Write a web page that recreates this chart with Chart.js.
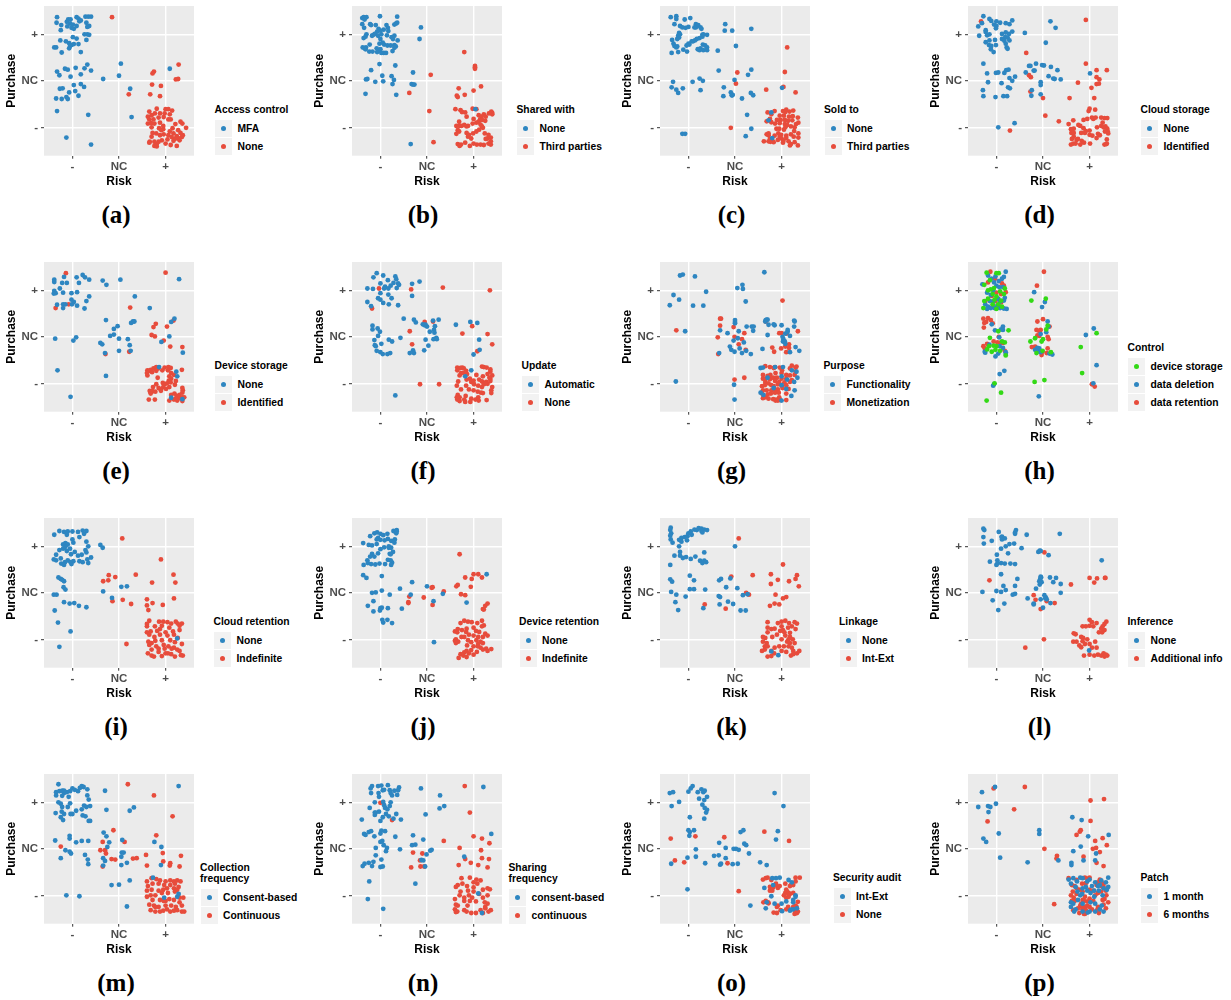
<!DOCTYPE html>
<html>
<head>
<meta charset="utf-8">
<title>Risk and purchase panels</title>
<script src="https://cdn.jsdelivr.net/npm/chart.js@4"></script>
<style>
body { margin: 0; background: #fff; width: 1231px; height: 1000px; position: relative; overflow: hidden; font-family: "Liberation Sans", Arial, sans-serif; }
canvas { position: absolute; }
.txt { position: absolute; font-weight: bold; font-size: 10.3px; line-height: 11px; color: #000; white-space: nowrap; }
.key { position: absolute; width: 17px; height: 17px; background: #f2f2f2; }
.dot { position: absolute; left: 6px; top: 6px; width: 5px; height: 5px; border-radius: 50%; }
.cap { position: absolute; font: bold 25px "Liberation Serif", serif; color: #000; transform: translate(-50%, -50%); }
</style>
</head>
<body>
<script>
// values are in hundredths of a category step: -100 is "-", 0 is NC, 100 is "+"
const tickValues = [-100, 0, 100];
const tickLabels = ["-", "NC", "+"];

const aBlue = [[-133,137],[-109,132],[-104,132],[-91,137],[-87,134],[-82,130],[-72,138],[-66,138],[-60,138],[-134,125],[-124,120],[-112,127],[-105,123],[-99,121],[-85,128],[-70,125],[-64,118],[-68,116],[-111,117],[-102,114],[-97,112],[-91,118],[-125,109],[-74,100],[-68,100],[-64,99],[-99,94],[-91,91],[-70,88],[-126,87],[-114,85],[-107,81],[-102,77],[-97,79],[-87,79],[-105,75],[-107,70],[-139,72],[-135,72],[-123,61],[-82,62],[-68,35],[-74,27],[-93,28],[-116,26],[-110,24],[-133,20],[-128,12],[-104,9],[-82,14],[-60,22],[-97,-9],[-82,-7],[-75,-13],[-127,-17],[-121,-16],[-107,-25],[-94,-22],[-87,-32],[-135,-38],[-123,-39],[-113,-35],[-110,-39],[-133,-65],[-66,-73],[-113,-122],[-60,-137],[4,37],[0,11],[-34,4],[24,-17],[27,-78],[109,26]];
const aRed = [[-15,137],[128,35],[75,20],[72,16],[122,3],[127,4],[71,-8],[90,-11],[21,-29],[67,-29],[88,-33],[65,-66],[81,-60],[100,-61],[106,-61],[114,-64],[62,-77],[70,-74],[77,-70],[88,-70],[98,-70],[109,-72],[65,-83],[74,-83],[85,-79],[96,-78],[106,-83],[62,-92],[69,-91],[76,-92],[88,-90],[95,-97],[111,-83],[132,-88],[136,-92],[121,-93],[144,-101],[70,-100],[86,-102],[95,-104],[115,-102],[127,-106],[109,-109],[72,-112],[80,-113],[88,-117],[96,-115],[106,-117],[117,-113],[124,-119],[132,-112],[137,-117],[70,-120],[113,-121],[120,-125],[127,-123],[135,-121],[66,-131],[65,-133],[76,-131],[81,-136],[100,-135],[111,-138],[117,-129],[124,-140],[85,-131],[76,-140],[81,-141],[91,-106],[104,-126],[130,-128],[92,-128]];

const bBlue = [[-139,135],[-136,137],[-130,137],[-134,132],[-101,139],[-64,138],[-139,122],[-135,114],[-122,122],[-120,120],[-110,120],[-104,112],[-87,120],[-84,114],[-64,125],[-70,121],[-67,123],[-100,108],[-93,110],[-83,107],[-107,106],[-115,99],[-118,97],[-112,101],[-98,100],[-86,98],[-130,100],[-136,92],[-132,95],[-105,97],[-76,94],[-70,97],[-73,90],[-100,90],[-63,87],[-123,78],[-102,80],[-95,82],[-92,78],[-85,76],[-78,76],[-70,77],[-67,74],[-70,71],[-138,72],[-134,70],[-131,72],[-124,63],[-117,63],[-107,62],[-102,65],[-98,60],[-93,60],[-88,60],[-74,64],[-132,68],[-108,70],[-100,68],[-102,36],[-120,23],[-68,33],[-96,11],[-131,3],[-128,4],[-111,-2],[-94,-1],[-76,10],[-71,2],[-74,-7],[-132,-28],[-66,-30],[-30,18],[-33,-7],[-30,-8],[-27,-8],[-13,115],[-16,90],[-35,-136],[104,-61]];
const bRed = [[80,62],[103,32],[103,29],[103,26],[8,13],[116,-12],[68,-16],[100,-21],[64,-32],[81,-30],[66,-35],[5,-65],[14,-132],[-38,-26],[61,-61],[72,-63],[75,-67],[98,-60],[106,-61],[82,-68],[85,-77],[69,-88],[100,-82],[111,-74],[122,-72],[138,-66],[140,-69],[140,-72],[133,-70],[126,-77],[117,-77],[70,-97],[74,-97],[88,-97],[106,-90],[111,-88],[114,-83],[118,-84],[125,-86],[63,-97],[80,-95],[85,-98],[98,-92],[115,-94],[118,-98],[120,-101],[112,-105],[66,-106],[69,-109],[85,-112],[90,-116],[99,-113],[106,-109],[124,-113],[132,-116],[63,-114],[88,-120],[95,-124],[137,-122],[130,-124],[126,-125],[66,-136],[73,-137],[82,-133],[100,-135],[107,-137],[115,-137],[122,-138],[132,-135],[137,-137],[137,-130],[92,-140],[70,-140]];

const cBlue = [[-138,137],[-126,139],[-126,133],[-108,132],[-96,135],[-130,122],[-118,118],[-113,115],[-106,114],[-100,116],[-84,122],[-82,118],[-79,120],[-74,115],[-72,112],[-84,115],[-87,115],[-120,103],[-118,100],[-122,97],[-124,90],[-135,88],[-120,93],[-70,99],[-68,100],[-60,99],[-70,95],[-76,92],[-82,90],[-86,87],[-93,85],[-90,85],[-100,80],[-98,78],[-104,76],[-132,80],[-130,75],[-126,72],[-124,74],[-69,78],[-64,76],[-60,72],[-74,70],[-80,68],[-76,66],[-68,66],[-60,66],[-136,60],[-122,62],[-111,67],[-103,63],[-37,65],[-22,108],[-6,108],[-21,122],[35,112],[2,75],[-35,22],[-133,-2],[-91,-2],[-76,5],[-69,0],[-136,-14],[-126,-19],[-122,-26],[-112,-16],[-74,-20],[-24,-14],[-25,-33],[-9,-25],[-7,-31],[-6,-31],[-5,-30],[15,-38],[39,-31],[34,-26],[35,24],[28,13],[-1,2],[78,-68],[26,-73],[-113,-114],[-107,-114],[35,-103],[23,-119],[101,-15],[72,-85],[80,-123]];
const cRed = [[112,72],[107,19],[5,18],[2,-6],[104,-13],[67,-19],[130,-25],[-9,-101],[70,-68],[78,-72],[75,-82],[85,-65],[96,-75],[103,-65],[110,-62],[108,-67],[117,-66],[125,-64],[105,-75],[116,-77],[124,-76],[135,-79],[68,-87],[78,-89],[90,-84],[98,-84],[107,-84],[114,-86],[123,-85],[131,-93],[136,-90],[86,-92],[96,-91],[107,-93],[112,-95],[120,-98],[128,-100],[89,-103],[95,-103],[105,-105],[108,-100],[72,-113],[68,-115],[85,-118],[93,-113],[99,-116],[110,-118],[120,-115],[127,-108],[136,-113],[72,-117],[80,-128],[75,-125],[96,-120],[100,-124],[104,-129],[115,-130],[126,-120],[136,-122],[62,-130],[72,-130],[83,-132],[103,-133],[120,-136],[128,-132],[135,-139],[118,-139],[76,-131],[110,-123],[92,-127]];

const dBlue = [[-128,139],[-115,133],[-111,129],[-100,128],[-92,125],[-105,121],[-100,118],[-101,113],[-80,124],[-72,122],[-66,130],[-139,117],[-131,124],[-66,106],[-123,109],[-123,105],[-137,97],[-120,98],[-115,100],[-88,101],[-80,104],[-81,94],[-88,90],[-83,86],[-73,101],[-76,93],[-72,87],[-80,80],[-115,87],[-103,88],[-123,83],[-116,77],[-111,75],[-101,77],[-112,68],[-106,62],[-78,72],[-76,69],[-39,103],[6,82],[16,128],[27,114],[-128,37],[-120,16],[-101,17],[-96,18],[-118,-3],[-89,-5],[-83,17],[-79,23],[-74,24],[-72,6],[-66,0],[-60,9],[-71,-16],[-75,-14],[-129,-20],[-128,-33],[-102,-35],[-85,-33],[-77,-33],[-37,18],[-30,32],[-27,32],[-15,37],[-2,34],[2,33],[-20,22],[-18,22],[17,30],[31,23],[12,10],[22,5],[25,4],[38,3],[-5,-3],[-5,-9],[-25,-32],[-24,-20],[-5,-29],[-96,-100],[-61,-91],[101,16]];
const dRed = [[-133,128],[92,131],[-36,60],[92,37],[-30,12],[-26,8],[-27,-23],[0,-37],[5,-75],[34,-87],[-71,-107],[137,23],[115,23],[115,8],[121,3],[115,-7],[120,-6],[104,-15],[57,-37],[75,-4],[110,-37],[100,-60],[98,-65],[112,-62],[105,-79],[87,-84],[95,-82],[108,-82],[113,-79],[125,-79],[132,-80],[138,-80],[55,-93],[65,-85],[76,-95],[80,-97],[128,-90],[125,-97],[130,-100],[134,-98],[66,-103],[60,-104],[87,-102],[92,-108],[100,-107],[116,-100],[138,-103],[139,-109],[61,-112],[66,-112],[82,-112],[90,-112],[100,-116],[106,-118],[118,-114],[122,-117],[133,-109],[140,-113],[66,-120],[62,-125],[75,-125],[83,-129],[88,-133],[115,-123],[137,-126],[137,-135],[65,-135],[70,-135],[80,-137],[101,-135],[132,-137],[136,-136],[60,-137],[72,-127]];

const eBlue = [[-139,123],[-139,118],[-118,129],[-91,128],[-78,133],[-73,128],[-64,123],[-122,116],[-112,116],[-86,116],[-127,104],[-120,95],[-139,99],[-140,93],[-136,94],[-102,94],[-90,96],[-64,87],[-70,77],[-102,80],[-97,75],[-101,70],[-90,67],[-74,61],[-120,70],[-115,70],[-133,69],[-120,62],[-35,121],[-27,112],[3,123],[129,124],[34,87],[66,62],[-28,36],[-3,23],[-11,17],[-11,5],[-19,2],[0,-4],[-40,-13],[-36,-16],[-30,-35],[0,-30],[25,-30],[19,-5],[23,-18],[26,30],[30,33],[33,33],[-137,-4],[-98,-8],[-92,-1],[-132,-72],[-28,-84],[-104,-129],[119,39],[112,32],[108,1],[91,-11],[137,-34],[123,-75],[125,-85],[112,-131],[136,-134],[86,-65]];
const eRed = [[-114,137],[100,138],[-136,62],[-108,70],[24,63],[-29,-37],[22,-32],[79,28],[74,21],[70,4],[77,1],[103,22],[117,35],[96,-8],[110,-21],[136,-22],[61,-72],[65,-73],[68,-71],[74,-68],[80,-65],[84,-68],[98,-66],[106,-65],[111,-67],[60,-78],[71,-76],[80,-73],[93,-72],[105,-72],[112,-78],[118,-82],[135,-71],[61,-83],[83,-88],[108,-85],[112,-90],[107,-94],[94,-99],[98,-102],[103,-100],[80,-102],[111,-98],[122,-95],[73,-108],[66,-116],[72,-117],[95,-108],[101,-112],[108,-108],[85,-110],[90,-113],[120,-103],[136,-110],[137,-115],[136,-120],[67,-118],[68,-122],[78,-118],[90,-116],[112,-125],[119,-122],[124,-127],[130,-125],[136,-130],[129,-132],[140,-130],[122,-133],[64,-135],[77,-135],[108,-137],[118,-135],[125,-137],[136,-138]];

const fBlue = [[-115,128],[-108,137],[-94,132],[-84,122],[-68,130],[-66,124],[-62,115],[-100,115],[-90,108],[-78,110],[-72,116],[-83,104],[-92,104],[-60,112],[-65,105],[-128,104],[-116,103],[-100,94],[-105,83],[-100,80],[-94,73],[-128,75],[-120,66],[-83,91],[-76,83],[-82,70],[-62,68],[-32,114],[-16,119],[-32,88],[-117,24],[-106,18],[-101,11],[-117,16],[-28,37],[-24,31],[-9,27],[-3,26],[0,22],[15,15],[13,35],[-3,-6],[6,11],[14,-5],[20,-2],[-5,25],[17,23],[16,9],[25,37],[-105,2],[-113,-7],[-82,-6],[-98,-15],[-100,-33],[-110,-20],[-108,-30],[-95,-37],[-85,-37],[-57,-2],[-79,-35],[-37,-35],[-28,-35],[-50,39],[-75,-10],[-112,-18],[3,-19],[21,-5],[-30,-29],[-6,-29],[62,26],[93,32],[108,30],[112,-6],[113,-28],[100,-38],[-68,-126],[95,-72],[82,-85]];
const fRed = [[-103,104],[-34,102],[34,106],[135,100],[-118,61],[-37,12],[-5,32],[13,33],[76,7],[97,23],[130,6],[140,-16],[-32,-16],[108,-31],[-15,-102],[26,-102],[65,-66],[72,-67],[76,-66],[79,-68],[65,-72],[73,-78],[77,-78],[84,-73],[118,-64],[122,-65],[128,-66],[136,-70],[136,-75],[70,-83],[86,-80],[106,-82],[130,-80],[140,-83],[120,-85],[136,-90],[134,-88],[67,-96],[85,-92],[92,-90],[95,-97],[100,-94],[112,-92],[118,-96],[127,-97],[122,-102],[130,-101],[136,-95],[64,-105],[84,-105],[101,-102],[110,-105],[118,-108],[125,-100],[140,-108],[73,-113],[90,-113],[100,-115],[109,-118],[120,-121],[138,-115],[138,-121],[66,-125],[70,-130],[65,-135],[83,-127],[95,-133],[110,-130],[116,-120],[80,-135],[82,-140],[93,-140],[104,-135],[111,-137],[128,-136],[64,-130],[70,-138]];

const gBlue = [[-118,132],[-112,134],[-86,130],[-62,97],[-132,90],[-120,80],[-140,68],[-90,67],[-68,67],[63,139],[5,105],[16,112],[17,103],[23,76],[-107,12],[-127,-96],[-2,-103],[-1,-135],[0,36],[0,32],[0,29],[25,22],[-32,14],[-16,8],[8,12],[36,22],[40,22],[39,13],[6,-3],[19,-12],[-11,-21],[-8,-28],[10,-25],[-1,-32],[15,-35],[24,-30],[34,-37],[-34,-35],[-3,-8],[66,36],[70,37],[68,37],[65,33],[72,26],[100,25],[85,25],[83,27],[113,15],[113,11],[127,35],[128,33],[127,22],[104,-5],[103,-10],[107,-10],[108,-15],[130,-22],[138,-30],[118,-33],[59,-26],[102,0],[108,7],[70,4],[118,2],[55,-67],[60,-66],[86,-65],[103,-65],[70,-88],[100,-85],[122,-72],[132,-75],[134,-88],[112,-92],[127,-97],[128,-115],[121,-127],[100,-137],[83,-110],[100,-104],[61,-125],[55,-120],[110,-112]];
const gRed = [[-126,14],[102,78],[66,33],[-32,24],[-30,39],[-32,39],[-37,-1],[-1,0],[-3,21],[15,-5],[20,8],[8,-16],[23,-28],[-36,-37],[-1,-92],[20,-88],[84,-32],[80,-23],[95,8],[100,8],[111,7],[116,-16],[135,12],[108,-21],[116,-24],[99,-25],[110,-33],[75,-65],[65,-63],[86,-65],[83,-67],[96,-66],[122,-62],[132,-64],[130,-66],[118,-68],[101,-72],[130,-75],[60,-82],[70,-84],[76,-82],[87,-78],[100,-78],[110,-82],[118,-83],[128,-82],[60,-90],[66,-90],[75,-91],[82,-88],[90,-88],[100,-90],[110,-90],[122,-93],[65,-97],[72,-100],[86,-95],[95,-97],[106,-98],[118,-97],[58,-106],[64,-104],[78,-104],[83,-106],[92,-102],[100,-105],[110,-104],[60,-115],[68,-115],[78,-115],[85,-113],[92,-113],[102,-110],[115,-112],[58,-122],[70,-124],[77,-122],[86,-120],[94,-120],[110,-122],[60,-132],[66,-130],[72,-133],[82,-134],[88,-135],[95,-130],[97,-136],[87,-137],[92,-137],[110,-136]];

const hGreen = [[-121,138],[-100,137],[-95,137],[-114,122],[-126,112],[-105,105],[-118,100],[-108,92],[-100,87],[-92,98],[-82,104],[-126,77],[-118,82],[-104,80],[-108,70],[-96,70],[-88,65],[-128,62],[-84,92],[-100,60],[-112,102],[-90,78],[-96,12],[-102,-28],[-116,-20],[-100,-20],[-92,-30],[-110,-32],[-82,-12],[-114,-2],[-80,-40],[-74,14],[-120,-27],[-106,-19],[-88,-10],[-14,-35],[-27,-10],[-17,-3],[0,-5],[10,24],[17,-33],[7,16],[-3,-10],[115,8],[-1,-30],[-25,78],[6,82],[-18,-97],[3,-93],[-104,-100],[-90,-120],[-121,-137],[81,-22],[84,-78]];
const hBlue = [[-130,113],[-118,132],[-111,125],[-102,130],[-88,125],[-80,140],[-84,129],[-105,117],[-100,110],[-94,107],[-86,107],[-120,95],[-112,90],[-107,100],[-96,82],[-82,84],[-124,70],[-118,65],[-112,62],[-104,62],[-92,62],[-84,61],[-78,60],[-98,67],[-107,76],[-92,76],[-84,78],[-114,77],[-120,60],[-95,120],[-86,22],[-90,16],[-103,14],[-110,27],[-94,-1],[-86,15],[-125,-32],[-115,-17],[-93,-20],[-86,-24],[-80,-33],[-102,-42],[-124,-34],[-96,-36],[-80,-37],[-12,-32],[-5,-33],[-17,-28],[-8,-25],[-12,-24],[20,-38],[14,-36],[7,10],[10,33],[12,22],[-5,6],[-19,96],[4,75],[-2,64],[109,18],[92,4],[-83,-73],[-93,-80],[-107,-105],[-105,-102],[-9,-128],[115,-61],[108,-100]];
const hRed = [[-113,140],[-103,125],[-88,115],[-84,110],[-80,96],[-118,117],[-100,95],[-110,88],[-90,92],[-102,77],[-124,76],[-96,63],[-108,66],[-90,74],[2,140],[-13,110],[-128,39],[-118,40],[-112,36],[-126,30],[-108,29],[-127,20],[-122,32],[-95,0],[-90,-12],[-106,-10],[-98,-12],[-86,-13],[-120,-15],[-82,-30],[-125,-25],[-128,-20],[-12,33],[0,38],[-5,15],[-14,15],[-9,13],[10,0],[12,-5],[-12,3],[-8,2],[-17,-21],[-1,-32],[-3,-39],[8,-35],[10,-25],[14,22],[-24,-22],[105,-102],[111,-107]];

const iBlue = [[-139,125],[-128,133],[-118,131],[-110,132],[-100,132],[-88,131],[-78,134],[-70,133],[-112,125],[-75,127],[-85,120],[-100,115],[-115,107],[-120,104],[-110,104],[-98,108],[-70,110],[-40,103],[-66,100],[-105,95],[-115,99],[-120,95],[-128,92],[-135,82],[-112,90],[-95,88],[-72,92],[-70,87],[-103,83],[-88,80],[-80,82],[-135,70],[-125,74],[-110,70],[-98,68],[-85,68],[-78,66],[-60,76],[-68,72],[-66,64],[-140,72],[-116,66],[-124,63],[-102,62],[-118,60],[-104,66],[-35,97],[-125,30],[-130,33],[-118,25],[-122,28],[-119,12],[-115,7],[-140,-4],[-134,-4],[-118,-20],[-106,-23],[-96,-22],[-86,-28],[-70,-31],[-138,-38],[-131,-64],[-104,-83],[-128,-116],[-34,3],[5,13],[17,14],[-15,-11],[125,-98]];
const iRed = [[7,117],[90,72],[117,39],[36,39],[-22,38],[-8,34],[-34,25],[-23,27],[71,22],[121,22],[118,-12],[-14,-18],[8,-15],[26,-24],[60,-14],[72,-22],[60,-27],[94,-26],[63,-37],[65,-60],[60,-67],[86,-62],[95,-62],[104,-63],[112,-66],[122,-62],[126,-66],[135,-66],[60,-72],[77,-72],[92,-71],[108,-75],[130,-71],[88,-78],[60,-85],[68,-83],[82,-82],[116,-83],[130,-80],[100,-85],[65,-90],[76,-95],[88,-90],[104,-92],[118,-90],[126,-97],[63,-105],[70,-108],[78,-103],[92,-102],[110,-102],[120,-106],[135,-110],[65,-112],[80,-115],[96,-112],[106,-115],[118,-118],[16,-110],[70,-122],[85,-120],[98,-120],[113,-120],[125,-122],[62,-130],[70,-135],[75,-137],[85,-127],[92,-136],[100,-130],[112,-132],[120,-137],[133,-134],[105,-130],[137,-135],[130,-125]];

const jBlue = [[-122,122],[-113,128],[-107,130],[-100,127],[-94,124],[-85,127],[-72,133],[-66,128],[-65,135],[-65,132],[-69,115],[-108,115],[-105,118],[-100,114],[-84,116],[-91,113],[-137,107],[-125,103],[-118,102],[-108,105],[-77,112],[-72,112],[-70,108],[-82,100],[-77,97],[-92,98],[-73,88],[-82,97],[-80,84],[-78,83],[-100,94],[-105,85],[-118,84],[-113,78],[-122,78],[-128,70],[-127,64],[-136,60],[-120,62],[-111,61],[-102,63],[-90,62],[-84,71],[-75,65],[-78,70],[-77,60],[-137,38],[-130,32],[-97,36],[-97,5],[-58,9],[-32,23],[0,14],[-80,-4],[-110,1],[-115,-18],[-118,0],[-127,-28],[-115,-40],[-100,-33],[-97,-32],[-84,-33],[-54,-34],[-85,-58],[-96,-58],[-101,-38],[-75,-65],[-94,-64],[-35,-4],[14,-18],[34,-2],[15,-106],[85,-21],[128,40]];
const jRed = [[70,83],[100,40],[110,40],[118,33],[82,33],[96,30],[63,14],[66,17],[94,13],[12,12],[10,11],[36,3],[73,-3],[82,-5],[-38,-8],[-40,-20],[-40,-22],[-7,-10],[12,-26],[130,-23],[125,-28],[120,-35],[122,-36],[72,-65],[80,-60],[88,-62],[96,-63],[108,-65],[118,-60],[122,-70],[66,-78],[75,-80],[85,-77],[100,-75],[118,-72],[84,-84],[105,-82],[112,-84],[60,-83],[65,-85],[125,-88],[130,-92],[90,-90],[100,-92],[74,-95],[80,-95],[110,-95],[120,-95],[62,-100],[67,-105],[60,-103],[88,-102],[106,-102],[115,-105],[120,-108],[62,-108],[95,-106],[100,-115],[110,-110],[86,-113],[115,-118],[120,-122],[127,-120],[138,-121],[130,-125],[95,-123],[85,-125],[90,-130],[80,-128],[72,-132],[68,-140],[78,-135],[85,-138],[109,-115],[107,-127],[100,-133]];

const kBlue = [[-138,140],[-139,135],[-137,128],[-139,123],[-120,114],[-115,118],[-108,120],[-102,122],[-100,128],[-95,132],[-93,125],[-87,136],[-82,135],[-78,139],[-72,133],[-66,136],[-60,135],[-72,138],[-70,130],[-138,115],[-134,108],[-115,110],[-103,113],[-120,100],[-118,88],[-130,80],[-118,80],[-112,75],[-105,77],[-95,73],[-85,78],[-66,87],[-75,69],[-70,64],[-62,66],[-66,69],[-139,60],[-139,29],[-135,24],[-97,37],[-88,27],[-97,8],[-88,8],[-64,7],[-137,2],[-126,-4],[-106,-8],[-128,-20],[-122,-37],[-68,-33],[-34,27],[-30,30],[-10,31],[-19,12],[-35,-7],[-32,-9],[5,10],[17,-5],[27,-3],[-33,-25],[-15,-19],[-4,-24],[12,-38],[23,-38],[0,100],[78,-126],[93,-134]];
const kRed = [[8,117],[103,61],[-8,35],[38,38],[77,40],[92,28],[77,19],[116,25],[133,38],[130,30],[137,14],[-65,-25],[-20,-34],[24,0],[30,-4],[87,-4],[110,-9],[103,-12],[85,-23],[75,-28],[95,-25],[70,-63],[92,-65],[100,-62],[108,-60],[116,-65],[128,-63],[133,-66],[70,-75],[78,-78],[85,-77],[100,-72],[114,-75],[122,-72],[130,-78],[70,-85],[97,-82],[103,-80],[118,-86],[60,-95],[65,-97],[80,-95],[90,-90],[106,-85],[108,-92],[118,-95],[124,-100],[115,-100],[60,-105],[68,-108],[100,-100],[112,-105],[118,-108],[128,-108],[64,-115],[70,-115],[85,-118],[95,-115],[105,-115],[115,-115],[122,-118],[58,-125],[64,-122],[78,-125],[84,-130],[100,-125],[110,-127],[125,-125],[133,-130],[138,-125],[120,-135],[125,-132],[70,-137],[78,-136]];

const lBlue = [[-128,138],[-126,135],[-128,120],[-127,106],[-110,112],[-95,131],[-89,120],[-88,121],[-88,115],[-60,127],[-58,135],[-60,130],[-82,117],[-72,105],[-62,106],[-46,96],[-80,100],[-90,95],[-99,82],[-35,125],[36,127],[-10,88],[-7,91],[-5,90],[12,81],[-114,67],[-98,70],[-98,63],[-90,64],[-100,60],[-82,63],[-70,63],[-60,62],[-75,85],[126,70],[-90,40],[-55,30],[-5,35],[-6,30],[-8,25],[-4,33],[-7,18],[-3,23],[15,33],[22,23],[28,32],[38,19],[-15,9],[-85,15],[-60,15],[-130,2],[-100,4],[-90,2],[-80,6],[-65,-4],[-60,-2],[-108,-16],[-83,-23],[-96,-37],[3,-5],[6,-10],[5,-12],[8,-14],[38,0],[16,-22],[-33,-12],[-20,-23],[-20,-25],[-5,-14],[0,-32],[99,-124]];
const lRed = [[3,87],[100,32],[116,31],[133,32],[134,32],[110,22],[60,18],[-115,27],[-20,-5],[-16,-15],[8,-18],[25,-22],[-5,-35],[100,-58],[105,-63],[115,-65],[136,-62],[132,-67],[85,-72],[92,-72],[100,-71],[108,-72],[128,-72],[125,-77],[132,-80],[66,-87],[70,-89],[82,-95],[86,-97],[120,-85],[127,-85],[-38,-118],[2,-100],[65,-105],[72,-105],[78,-113],[85,-104],[95,-100],[100,-110],[112,-105],[90,-110],[105,-118],[115,-118],[82,-117],[88,-135],[100,-133],[110,-135],[118,-133],[125,-135],[130,-130],[132,-137],[138,-135],[135,-133]];

const mBlue = [[-130,139],[-135,122],[-128,124],[-122,125],[-118,120],[-112,122],[-100,130],[-95,127],[-88,124],[-84,131],[-80,135],[-76,133],[-68,128],[-118,125],[-105,124],[-135,115],[-122,114],[-68,115],[-65,106],[-108,112],[-130,100],[-125,97],[-122,90],[-110,90],[-105,98],[-75,93],[-70,90],[-80,85],[-62,92],[-123,80],[-118,75],[-100,75],[-92,82],[-125,68],[-120,62],[-104,75],[-78,72],[-72,70],[-65,60],[-62,60],[-136,77],[-30,125],[-27,84],[23,82],[32,89],[128,135],[-33,35],[-27,27],[-137,18],[-106,28],[-106,22],[-80,17],[-66,17],[-92,14],[-21,14],[-25,4],[7,19],[6,-8],[10,-8],[-115,-3],[-103,-10],[-106,-6],[-125,-20],[-73,-13],[-67,-23],[-34,-20],[-30,-26],[-66,-33],[-34,-36],[5,-17],[5,-35],[17,-30],[-16,-78],[0,-77],[23,-68],[-113,-100],[-85,-102],[17,-124],[73,-62],[90,-35],[91,4],[76,15],[97,-105],[125,-103],[128,-97]];
const mRed = [[19,139],[75,115],[115,70],[-28,-10],[80,29],[-12,40],[-35,15],[12,15],[-125,5],[-16,-22],[-8,-23],[30,-21],[-40,-3],[-30,-3],[38,-20],[58,-13],[60,-36],[94,-9],[95,-27],[110,-31],[109,-36],[133,-15],[130,-38],[-35,-38],[70,-63],[80,-65],[88,-68],[100,-70],[110,-68],[118,-70],[125,-68],[132,-70],[60,-70],[72,-75],[85,-75],[97,-78],[110,-78],[120,-75],[128,-82],[62,-80],[70,-88],[85,-90],[95,-88],[103,-85],[118,-85],[60,-90],[68,-100],[78,-100],[92,-95],[105,-95],[120,-92],[125,-88],[130,-105],[138,-105],[60,-103],[72,-110],[88,-110],[100,-112],[108,-108],[118,-110],[130,-115],[65,-120],[75,-122],[85,-125],[100,-122],[112,-122],[122,-125],[135,-122],[68,-132],[78,-135],[88,-135],[95,-133],[103,-130],[110,-135],[118,-133],[125,-132],[135,-135],[140,-135],[96,-112],[78,-125]];

const nBlue = [[-121,130],[-118,135],[-105,135],[-98,136],[-84,137],[-60,132],[-62,126],[-70,125],[-80,126],[-64,116],[-120,120],[-104,120],[-95,126],[-92,127],[-78,120],[-75,115],[-13,130],[-103,112],[-112,100],[-94,101],[-78,100],[-92,94],[-90,88],[-85,85],[-80,92],[-140,63],[-112,78],[-103,80],[-88,75],[-95,68],[-112,73],[-82,70],[-56,63],[-72,65],[-123,88],[-110,78],[-100,60],[-66,75],[121,133],[37,92],[28,115],[27,87],[-3,74],[-135,32],[-125,36],[-120,38],[-98,39],[-90,38],[-100,33],[-132,30],[-113,27],[-96,17],[-68,26],[-30,29],[-93,8],[-100,15],[-86,2],[-88,-5],[-58,-1],[-110,2],[-8,20],[-32,8],[-25,9],[-1,-12],[7,-4],[10,-2],[-12,-24],[-110,-14],[-98,-23],[-115,-28],[-118,-37],[-138,-37],[-134,-32],[-125,-30],[-100,-39],[-95,-38],[-25,-75],[-124,-70],[-127,-108],[-94,-129],[138,32],[-4,-38],[-8,-25],[80,-17],[110,-96],[118,-138]];
const nRed = [[-100,99],[-75,62],[81,135],[92,78],[100,27],[118,22],[134,12],[36,17],[-10,-10],[-30,-8],[-15,-25],[-14,-38],[-6,-38],[-34,-40],[70,2],[116,-3],[118,-20],[133,-22],[82,-22],[68,-35],[110,-35],[130,-40],[94,-30],[74,-63],[92,-62],[106,-66],[100,-72],[76,-75],[86,-80],[66,-78],[62,-82],[100,-83],[108,-75],[115,-68],[130,-85],[135,-87],[72,-92],[88,-90],[100,-92],[120,-88],[70,-100],[80,-105],[90,-100],[112,-97],[120,-105],[130,-100],[60,-108],[80,-112],[92,-112],[124,-115],[130,-118],[62,-120],[66,-122],[97,-105],[105,-113],[125,-125],[87,-122],[60,-130],[62,-136],[80,-132],[85,-135],[95,-138],[105,-138],[115,-132],[125,-128],[137,-132],[132,-135],[120,-138],[65,-135]];

const oBlue = [[-140,120],[-133,122],[-136,92],[-120,101],[-100,123],[-95,130],[-91,135],[-80,122],[-77,108],[-72,128],[-68,122],[-65,125],[-60,112],[-66,105],[-70,95],[-65,88],[-60,84],[-62,78],[-97,68],[-66,65],[-97,36],[-100,40],[-88,40],[-98,28],[-84,-1],[-102,-19],[-84,-17],[-64,-31],[-137,-32],[-34,13],[-20,2],[-35,-14],[-30,-32],[-32,-34],[-20,-20],[-3,0],[2,0],[8,-2],[12,36],[18,40],[20,11],[24,8],[30,-10],[-5,-33],[6,-32],[85,120],[104,92],[88,20],[92,38],[-102,-87],[33,-122],[54,-29],[68,-35],[-45,-15],[80,-63],[88,-63],[96,-62],[115,-67],[122,-72],[63,-84],[82,-78],[78,-102],[130,-100],[125,-110],[130,-103],[110,-113],[125,-115],[66,-128],[85,-118],[100,-118],[118,-133],[120,-131],[125,-130],[133,-128],[68,-115],[101,-134]];
const oRed = [[-138,22],[-129,-25],[-109,-29],[-85,27],[-23,25],[63,37],[116,17],[-16,-31],[8,-91],[60,-66],[66,-63],[70,-62],[78,-67],[88,-75],[130,-62],[139,-62],[130,-70],[108,-75],[125,-78],[120,-78],[75,-82],[82,-83],[92,-84],[96,-80],[118,-80],[110,-88],[108,-95],[112,-92],[115,-95],[105,-100],[118,-97],[66,-112],[61,-115],[71,-115],[75,-90],[80,-90],[88,-78],[90,-125],[98,-132],[110,-130],[114,-125],[125,-125],[130,-122],[135,-135],[130,-135],[128,-140],[92,-122],[110,-105],[115,-103],[125,-95],[132,-125],[133,-138],[83,-137],[72,-117],[90,-138],[135,-114]];

const pBlue = [[-103,133],[-131,122],[-139,90],[-118,92],[-113,90],[-117,79],[-101,97],[-128,22],[-122,15],[-95,33],[-92,-19],[-33,-29],[-8,40],[-8,32],[33,-25],[63,68],[83,62],[97,27],[141,30],[81,5],[65,-5],[114,-10],[87,-25],[61,-30],[61,-35],[112,-25],[55,-66],[65,-63],[80,-62],[85,-63],[73,-70],[60,-75],[95,-70],[100,-66],[112,-72],[122,-78],[140,-62],[125,-68],[135,-72],[70,-82],[85,-85],[92,-82],[105,-80],[118,-80],[130,-85],[140,-82],[95,-90],[102,-95],[110,-90],[120,-90],[137,-88],[84,-97],[80,-100],[74,-92],[110,-103],[128,-100],[60,-115],[65,-118],[75,-110],[85,-118],[102,-115],[112,-118],[126,-122],[60,-125],[70,-130],[85,-135],[100,-135],[112,-135],[122,-130],[130,-135],[67,-135],[96,-137]];
const pRed = [[-106,130],[-39,133],[-62,85],[-119,59],[3,0],[30,-15],[29,-21],[24,-119],[102,104],[131,107],[102,60],[81,40],[79,37],[72,30],[128,23],[112,17],[137,8],[107,0],[114,2],[122,-7],[87,-17],[115,-30],[130,-37],[55,-63],[72,-67],[90,-62],[100,-62],[68,-80],[72,-85],[84,-75],[92,-74],[108,-90],[125,-70],[115,-78],[130,-75],[62,-78],[85,-92],[100,-88],[112,-100],[125,-92],[118,-95],[60,-100],[72,-97],[90,-103],[100,-107],[128,-110],[136,-100],[68,-112],[85,-110],[95,-113],[80,-122],[90,-125],[75,-128],[85,-130],[108,-112],[118,-125],[130,-120],[140,-115],[65,-132],[78,-138],[90,-140],[105,-130],[120,-138],[135,-128],[100,-125],[88,-112],[82,-118],[95,-122],[92,-132],[84,-125],[122,-66],[130,-82],[118,-72],[135,-90],[125,-80],[66,-105],[62,-112],[78,-88],[96,-64],[88,-140],[116,-132],[132,-108],[64,-92]];

const colBlue = "#2e86c1";
const colRed = "#e74c3c";
const colGreen = "#33d916";

// one entry per panel, in reading order
const panelKeys = "abcdefghijklmnop".split("");
const legendTitles = [["Access control"],["Shared with"],["Sold to"],["Cloud storage"],["Device storage"],["Update"],["Purpose"],["Control"],["Cloud retention"],["Device retention"],["Linkage"],["Inference"],["Collection","frequency"],["Sharing","frequency"],["Security audit"],["Patch"]];
const legendLabels = [["MFA","None"],["None","Third parties"],["None","Third parties"],["None","Identified"],["None","Identified"],["Automatic","None"],["Functionality","Monetization"],["device storage","data deletion","data retention"],["None","Indefinite"],["None","Indefinite"],["None","Int-Ext"],["None","Additional info"],["Consent-based","Continuous"],["consent-based","continuous"],["Int-Ext","None"],["1 month","6 months"]];
const panelData = [[aBlue,aRed],[bBlue,bRed],[cBlue,cRed],[dBlue,dRed],[eBlue,eRed],[fBlue,fRed],[gBlue,gRed],[hGreen,hBlue,hRed],[iBlue,iRed],[jBlue,jRed],[kBlue,kRed],[lBlue,lRed],[mBlue,mRed],[nBlue,nRed],[oBlue,oRed],[pBlue,pRed]];
const legendLeft = [214.5,516.5,824,1140.5,214.5,521.5,823.5,1127.5,213.5,519,839,1127.5,200,508.5,833,1140.5];

const colLeft = [44, 352, 660, 968];
const rowTop = [6, 262, 518, 774];
const captionX = [116, 423, 731.5, 1039.5];
const captionY = [215, 470.5, 727, 983];

function addDiv(cls, x, y, text) {
  const d = document.createElement("div");
  d.className = cls;
  d.style.left = x + "px";
  d.style.top = y + "px";
  if (text) d.textContent = text;
  document.body.appendChild(d);
  return d;
}

const panelBackground = {
  id: "panelBackground",
  beforeDraw(chart) {
    const a = chart.chartArea;
    chart.ctx.fillStyle = "#ebebeb";
    chart.ctx.fillRect(a.left, a.top, a.right - a.left, a.bottom - a.top);
  }
};

function axis(title, size) {
  const isX = title === "Risk";
  return {
    type: "linear",
    min: -161,
    max: 161,
    afterBuildTicks(scale) { scale.ticks = tickValues.map(v => ({ value: v })); },
    afterFit(scale) {
      // the plot keeps its exact size: no extra room for the tick labels
      if (isX) { scale.height = size; scale.paddingLeft = 0; scale.paddingRight = 0; }
      else { scale.width = size; scale.paddingTop = 0; scale.paddingBottom = 0; }
    },
    grid: { color: "#ffffff", lineWidth: 1.4, tickColor: "#333333", tickLength: 3, tickWidth: 1 },
    border: { display: false },
    ticks: {
      autoSkip: false,
      maxRotation: 0,
      padding: isX ? 1 : 3,
      color: "#4d4d4d",
      font: { family: "Liberation Sans", size: 11.5, weight: "bold" },
      callback: (v, i) => tickLabels[i]
    },
    title: {
      display: true,
      text: title,
      color: "#000000",
      padding: isX ? 0 : { top: 4, bottom: 0 },
      font: { family: "Liberation Sans", size: 12, weight: "bold" }
    }
  };
}

panelKeys.forEach((key, i) => {
  const col = i % 4;
  const row = Math.floor(i / 4);
  const colours = panelData[i].length === 3 ? [colGreen, colBlue, colRed] : [colBlue, colRed];

  const canvas = document.createElement("canvas");
  canvas.id = "panel-" + key;
  canvas.width = 198;
  canvas.height = 189;
  canvas.style.left = (colLeft[col] - 44) + "px";
  canvas.style.top = (rowTop[row] - 6) + "px";
  document.body.appendChild(canvas);

  new Chart(canvas, {
    type: "scatter",
    data: {
      datasets: panelData[i].map((pts, s) => ({
        label: legendLabels[i][s],
        data: pts.map(p => ({ x: p[0], y: p[1] })),
        backgroundColor: colours[s],
        borderWidth: 0,
        pointRadius: 2.4
      }))
    },
    options: {
      responsive: false,
      animation: false,
      layout: { padding: { top: 6, right: 0, left: 0, bottom: 0 } },
      plugins: { legend: { display: false }, tooltip: { enabled: false } },
      scales: { x: axis("Risk", 33.3), y: axis("Purchase", 44) }
    },
    plugins: [panelBackground]
  });

  // legend block, bottom aligned with the plot
  const lx = legendLeft[i];
  const y0 = rowTop[row];
  const n = legendLabels[i].length;
  const lines = legendTitles[i].length;
  const firstKey = y0 + 114 - (n - 2) * 18 + (lines > 1 ? 1 : 0);
  legendTitles[i].forEach((t, k) => {
    addDiv("txt", lx, firstKey - 16.5 - (lines - 1 - k) * 10.6, t);
  });
  legendLabels[i].forEach((t, k) => {
    const box = addDiv("key", lx + 0.5, firstKey + k * 18);
    const dot = document.createElement("div");
    dot.className = "dot";
    dot.style.background = colours[k];
    box.appendChild(dot);
    addDiv("txt", lx + 23, firstKey + k * 18 + 3, t);
  });

  addDiv("cap", captionX[col], captionY[row], "(" + key + ")");
});
</script>
</body>
</html>
